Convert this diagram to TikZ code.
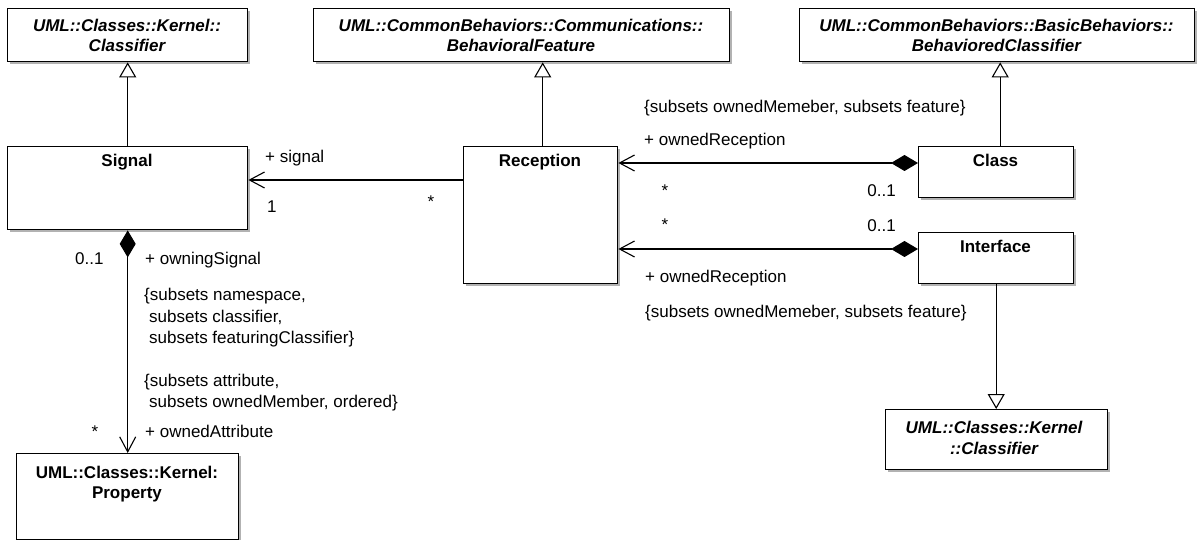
\documentclass[tikz,border=0pt]{standalone}
\usepackage{fontspec}
\setmainfont{Liberation Sans}
\usetikzlibrary{arrows.meta,shadows}
\begin{document}
\begin{tikzpicture}[x=1pt,y=-1pt,
  every node/.style={font=\fontsize{17}{21}\selectfont, inner sep=0pt},
  umlbox/.style={draw=black, line width=1.4pt, fill=white, anchor=north west,
    drop shadow={shadow xshift=2.2pt, shadow yshift=-2.2pt, fill=black!30, opacity=1}},
  ttl/.style={anchor=base, font=\fontsize{17}{21}\selectfont\bfseries},
  attl/.style={anchor=base, font=\fontsize{17}{21}\selectfont\bfseries\itshape},
  lbl/.style={anchor=base west},
  lble/.style={anchor=base east},
  lblc/.style={anchor=base},
  gen/.style={line width=1.1pt, -{Triangle[open, length=15pt, width=17pt, fill=white]}},
  nav/.style={line width=1.1pt, -{Straight Barb[length=15pt, width=16pt]}},
  comp/.style={line width=1.1pt, {Diamond[length=27pt, width=16pt]}-{Straight Barb[length=15pt, width=16pt]}},
]
\useasboundingbox (0,0) rectangle (1197,540);
\clip (0,0) rectangle (1197,540);
\fill[white] (0,0) rectangle (1197,540);

% boxes
\node[umlbox, minimum width=240pt, minimum height=53pt] (clsA) at (7,8) {};
\node[umlbox, minimum width=416pt, minimum height=53pt] (bf) at (313,8) {};
\node[umlbox, minimum width=395pt, minimum height=53pt] (bc) at (799,8) {};
\node[umlbox, minimum width=240pt, minimum height=83pt] (sig) at (7,146) {};
\node[umlbox, minimum width=154pt, minimum height=137pt] (rec) at (463,146) {};
\node[umlbox, minimum width=155pt, minimum height=51pt] (cls) at (918,146) {};
\node[umlbox, minimum width=155pt, minimum height=51pt] (itf) at (918,232) {};
\node[umlbox, minimum width=222pt, minimum height=60pt] (clsB) at (885,409) {};
\node[umlbox, minimum width=222pt, minimum height=86pt] (prop) at (16,453) {};

% titles
\node[attl] (clsAt1) at (127,32) {UML::Classes::Kernel::};
\node[attl] (clsAt2) at (127,52) {Classifier};
\node[attl] (bft1) at (521,32) {UML::CommonBehaviors::Communications::};
\node[attl] (bft2) at (521,52) {BehavioralFeature};
\node[attl] (bct1) at (996.5,32) {UML::CommonBehaviors::BasicBehaviors::};
\node[attl] (bct2) at (996.5,52) {BehavioredClassifier};
\node[ttl] (sigt) at (127,167) {Signal};
\node[ttl] (rect) at (540,167) {Reception};
\node[ttl] (clst) at (995.5,167) {Class};
\node[ttl] (itft) at (995.5,253) {Interface};
\node[attl] (clsBt1) at (994,433) {UML::Classes::Kernel};
\node[attl] (clsBt2) at (994,454) {::Classifier};
\node[ttl] (propt1) at (127,478) {UML::Classes::Kernel:};
\node[ttl] (propt2) at (127,498) {Property};

% connectors
\draw[gen] (sig.north) -- (clsA.south);
\draw[gen] ([xshift=2pt]rec.north) -- ([xshift=2pt]rec.north |- bf.south);
\draw[gen] ([xshift=4pt]cls.north) -- ([xshift=4pt]cls.north |- bc.south);
\draw[gen] (itf.south) -- (itf.south |- clsB.north);
\draw[nav] ([yshift=-34pt]rec.north west) -- ([yshift=-34pt]rec.north west -| sig.east);
\draw[comp] ([yshift=-17pt]cls.north west) -- ([yshift=-17pt]cls.north west -| rec.east);
\draw[comp] ([yshift=-17pt]itf.north west) -- ([yshift=-17pt]itf.north west -| rec.east);
\draw[comp] (sig.south) -- (prop.north);

% labels: Signal - Reception
\node[lbl] (l1) at (265,163) {+ signal};
\node[lbl] (l2) at (267,213) {1};
\node[lblc] (l3) at (431,208) {*};

% labels: Signal - Property
\node[lbl] (l4) at (75,265) {0..1};
\node[lbl] (l5) at (145,265) {+ owningSignal};
\node[lbl] (l6) at (144,300) {\{subsets namespace,};
\node[lbl] (l7) at (149,322) {subsets classifier,};
\node[lbl] (l8) at (149,343) {subsets featuringClassifier\}};
\node[lbl] (l9) at (144,386) {\{subsets attribute,};
\node[lbl] (l10) at (149,407) {subsets ownedMember, ordered\}};
\node[lblc] (l11) at (95,437) {*};
\node[lbl] (l12) at (145,437) {+ ownedAttribute};

% labels: Class - Reception
\node[lbl] (l13) at (644,113) {\{subsets ownedMemeber, subsets feature\}};
\node[lbl] (l14) at (644,146) {+ ownedReception};
\node[lblc] (l15) at (665,197) {*};
\node[lble] (l16) at (896,197) {0..1};

% labels: Interface - Reception
\node[lblc] (l17) at (665,231) {*};
\node[lble] (l18) at (896,232) {0..1};
\node[lbl] (l19) at (645,283) {+ ownedReception};
\node[lbl] (l20) at (645,317) {\{subsets ownedMemeber, subsets feature\}};
\end{tikzpicture}
\end{document}
